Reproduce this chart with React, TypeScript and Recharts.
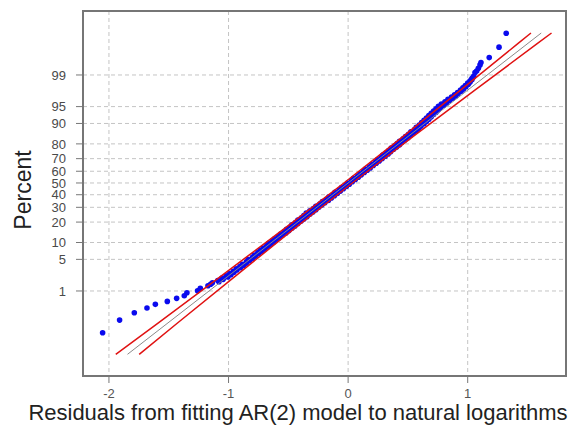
import { ScatterChart, Scatter, XAxis, YAxis, CartesianGrid, ReferenceArea } from "recharts";

// percent axis: labels and their normal scores (the y axis is drawn in normal-score units)
const percentTicks = [1, 5, 10, 20, 30, 40, 50, 60, 70, 80, 90, 95, 99];
const percentScores = [-2.326, -1.645, -1.282, -0.842, -0.524, -0.253, 0, 0.253, 0.524, 0.842, 1.282, 1.645, 2.326];
const residualTicks = [-2, -1, 0, 1];

// lower tail of the residuals (x) with their normal scores (y)
const lowTailResidual = [-2.053, -1.911, -1.788, -1.682, -1.612, -1.512, -1.434, -1.37, -1.348, -1.259, -1.236, -1.172, -1.15];
const lowTailScore = [-3.226, -2.953, -2.795, -2.694, -2.614, -2.55, -2.485, -2.429, -2.364, -2.321, -2.269, -2.213, -2.18];

// dense middle of the plot, read in two passes (left and right edge of the band)
const bodyScoreA = [
  -2.15, -2.1, -2.05, -2.0, -1.95, -1.9, -1.85, -1.8, -1.75, -1.7, -1.65, -1.6, -1.55, -1.5, -1.45,
  -1.4, -1.35, -1.3, -1.25, -1.2, -1.15, -1.1, -1.05, -1.0, -0.95, -0.9, -0.85, -0.8, -0.75, -0.7,
  -0.65, -0.6, -0.55, -0.5, -0.45, -0.4, -0.35, -0.3, -0.25, -0.2, -0.15, -0.1, -0.05, 0.0, 0.05,
  0.1, 0.15, 0.2, 0.25, 0.3, 0.35, 0.4, 0.45, 0.5, 0.55, 0.6, 0.65, 0.7, 0.75, 0.8,
  0.85, 0.9, 0.95, 1.0, 1.05, 1.1, 1.15, 1.2, 1.25, 1.3, 1.35, 1.4, 1.45, 1.5, 1.55,
  1.6, 1.65, 1.7, 1.75, 1.8, 1.85, 1.9, 1.95, 2.0, 2.05, 2.1, 2.15, 2.2, 2.25, 2.3,
];
const bodyResidualA = [
  -1.135, -1.09, -1.055, -1.02, -0.99, -0.96, -0.935, -0.905, -0.885, -0.85, -0.835, -0.8, -0.785, -0.755, -0.735,
  -0.71, -0.68, -0.665, -0.635, -0.615, -0.585, -0.565, -0.535, -0.515, -0.485, -0.47, -0.44, -0.42, -0.39, -0.37,
  -0.35, -0.32, -0.29, -0.27, -0.235, -0.215, -0.18, -0.16, -0.125, -0.11, -0.075, -0.055, -0.02, -0.005, 0.03,
  0.045, 0.08, 0.1, 0.13, 0.145, 0.18, 0.2, 0.23, 0.245, 0.275, 0.29, 0.32, 0.34, 0.36, 0.39,
  0.41, 0.43, 0.46, 0.48, 0.505, 0.525, 0.555, 0.57, 0.595, 0.615, 0.635, 0.655, 0.675, 0.695, 0.715,
  0.735, 0.755, 0.78, 0.81, 0.835, 0.865, 0.89, 0.915, 0.94, 0.96, 0.98, 1.0, 1.02, 1.035, 1.05,
];
const bodyScoreB = [
  -2.125, -2.075, -2.025, -1.975, -1.925, -1.875, -1.825, -1.775, -1.725, -1.675, -1.625, -1.575, -1.525, -1.475, -1.425,
  -1.375, -1.325, -1.275, -1.225, -1.175, -1.125, -1.075, -1.025, -0.975, -0.925, -0.875, -0.825, -0.775, -0.725, -0.675,
  -0.625, -0.575, -0.525, -0.475, -0.425, -0.375, -0.325, -0.275, -0.225, -0.175, -0.125, -0.075, -0.025, 0.025, 0.075,
  0.125, 0.175, 0.225, 0.275, 0.325, 0.375, 0.425, 0.475, 0.525, 0.575, 0.625, 0.675, 0.725, 0.775, 0.825,
  0.875, 0.925, 0.975, 1.025, 1.075, 1.125, 1.175, 1.225, 1.275, 1.325, 1.375, 1.425, 1.475, 1.525, 1.575,
  1.625, 1.675, 1.725, 1.775, 1.825, 1.875, 1.925, 1.975, 2.025, 2.075, 2.125, 2.175, 2.225, 2.275,
];
const bodyResidualB = [
  -1.08, -1.045, -1.005, -0.98, -0.955, -0.93, -0.9, -0.875, -0.85, -0.825, -0.8, -0.775, -0.75, -0.725, -0.7,
  -0.675, -0.65, -0.625, -0.6, -0.575, -0.55, -0.52, -0.495, -0.47, -0.445, -0.42, -0.395, -0.37, -0.345, -0.32,
  -0.295, -0.27, -0.245, -0.22, -0.195, -0.165, -0.14, -0.115, -0.09, -0.065, -0.04, -0.015, 0.01, 0.035, 0.06,
  0.085, 0.11, 0.135, 0.16, 0.185, 0.21, 0.235, 0.26, 0.285, 0.31, 0.335, 0.355, 0.38, 0.405, 0.43,
  0.45, 0.475, 0.5, 0.52, 0.545, 0.57, 0.59, 0.61, 0.635, 0.655, 0.675, 0.695, 0.715, 0.735, 0.755,
  0.775, 0.8, 0.825, 0.85, 0.875, 0.9, 0.92, 0.945, 0.965, 0.985, 1.005, 1.02, 1.035, 1.045,
];

// upper tail
const highTailResidual = [1.061, 1.075, 1.089, 1.103, 1.111, 1.18, 1.262, 1.322];
const highTailScore = [2.377, 2.41, 2.47, 2.543, 2.593, 2.7, 2.925, 3.226];

// fitted normal line and its confidence band
const fitScore = [-3.69, 3.23];
const fitResidual = [-1.845, 1.615];
const bandScore = [-3.69, -3, -2, -1, 0, 1, 2, 3, 3.23];
const bandLeft = [-1.943, -1.581, -1.06, -0.542, -0.035, 0.458, 0.94, 1.419, 1.529];
const bandRight = [-1.747, -1.419, -0.94, -0.458, 0.035, 0.542, 1.06, 1.581, 1.701];

const zip = (xs: number[], ys: number[]) => xs.map((x, i) => ({ x, y: ys[i] }));

const points = [
  ...zip(lowTailResidual, lowTailScore),
  ...zip(bodyResidualA, bodyScoreA),
  ...zip(bodyResidualB, bodyScoreB),
  ...zip(highTailResidual, highTailScore),
];

const FONT = "'Liberation Sans', Arial, sans-serif";

const Dot = (p: any) => <circle cx={p.cx} cy={p.cy} r={2.8} fill="#0a0aee" />;
const NoDot = () => <g />;

const percentLabel = (v: number) => {
  const i = percentScores.indexOf(v);
  return i >= 0 ? String(percentTicks[i]) : "";
};

export default function App() {
  return (
    <div style={{ position: "absolute", left: 0, top: 0, width: 569, height: 430, background: "#fff" }}>
      <ScatterChart width={569} height={430} margin={{ top: 11, right: 3, left: 0, bottom: 0 }}>
        <CartesianGrid strokeDasharray="4 3" stroke="#c4c4c4" />
        <XAxis
          type="number"
          dataKey="x"
          domain={[-2.217, 1.822]}
          ticks={residualTicks}
          interval={0}
          height={54}
          tickSize={7}
          tickMargin={6}
          axisLine={false}
          tickLine={{ stroke: "#777" }}
          tick={{ fontSize: 13, fill: "#555", fontFamily: FONT }}
        />
        <YAxis
          type="number"
          dataKey="y"
          domain={[-4.157, 3.704]}
          ticks={percentScores}
          interval={0}
          width={83}
          tickSize={7}
          tickMargin={10}
          axisLine={false}
          tickLine={{ stroke: "#777" }}
          tickFormatter={percentLabel}
          tick={{ fontSize: 13, fill: "#4a4a4a", fontFamily: FONT }}
        />
        <ReferenceArea
          x1={-2.217}
          x2={1.822}
          y1={-4.157}
          y2={3.704}
          fill="none"
          stroke="#767676"
          strokeWidth={2}
          ifOverflow="visible"
        />
        <Scatter data={points} shape={Dot} isAnimationActive={false} />
        <Scatter data={zip(bandLeft, bandScore)} line={{ stroke: "#e01212", strokeWidth: 1.5 }} shape={NoDot} isAnimationActive={false} />
        <Scatter data={zip(bandRight, bandScore)} line={{ stroke: "#e01212", strokeWidth: 1.5 }} shape={NoDot} isAnimationActive={false} />
        <Scatter data={zip(fitResidual, fitScore)} line={{ stroke: "#8a8a8a", strokeWidth: 1 }} shape={NoDot} isAnimationActive={false} />
        <text x={298} y={420} textAnchor="middle" fontSize={22} fill="#222" fontFamily={FONT}>
          Residuals from fitting AR(2) model to natural logarithms
        </text>
        <text
          x={31}
          y={190}
          transform="rotate(-90 31 190)"
          textAnchor="middle"
          fontSize={23}
          fill="#222"
          fontFamily={FONT}
        >
          Percent
        </text>
      </ScatterChart>
    </div>
  );
}
